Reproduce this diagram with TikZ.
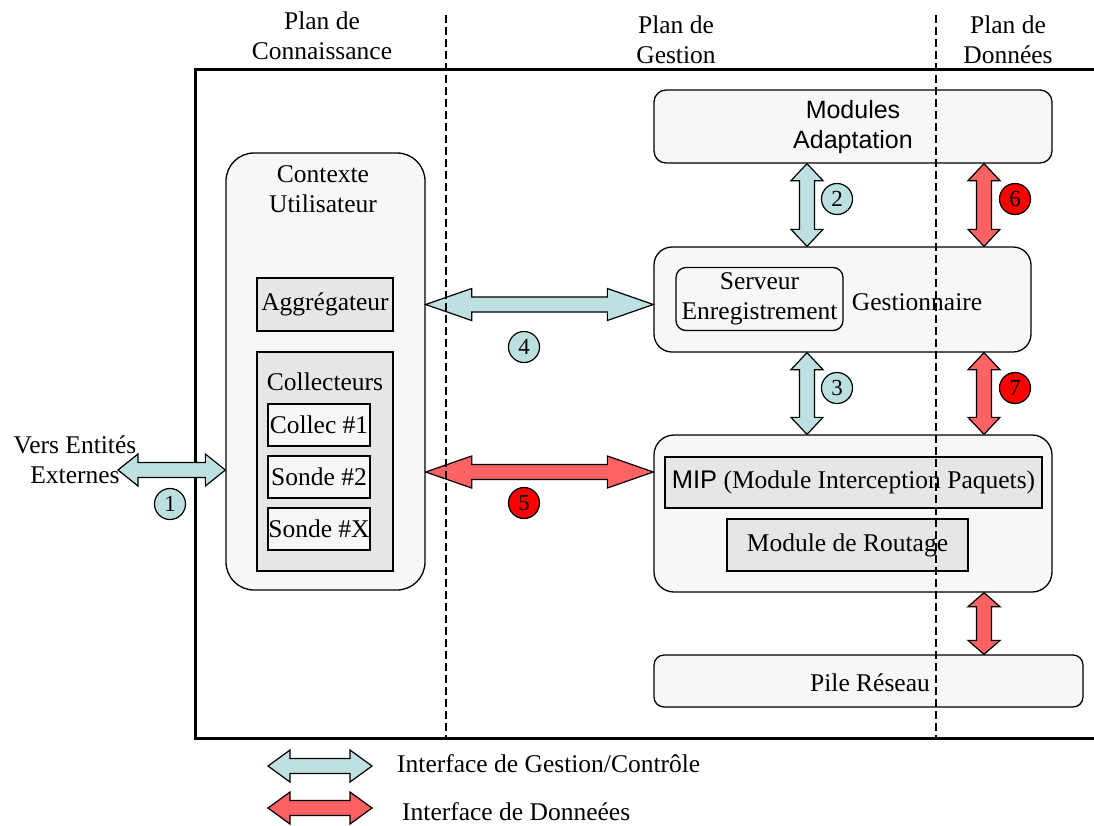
\documentclass[tikz,border=0pt]{standalone}
\usepackage{fontspec}
\setmainfont{Liberation Serif}
\newfontfamily\arialfont{Liberation Sans}
\usetikzlibrary{calc}
\definecolor{boxfill}{HTML}{F7F7F7}
\definecolor{innerfill}{HTML}{E6E6E6}
\definecolor{probefill}{HTML}{F6F6F6}
\definecolor{ctrlfill}{HTML}{BFE0E2}
\definecolor{datafill}{HTML}{FF6262}
\definecolor{ctrlcirc}{HTML}{BCDFDF}
\definecolor{datacirc}{HTML}{FF0000}
% horizontal double block arrow: style, left point, right point, head length
\newcommand\hdblarrow[4]{%
  \path[#1] let \p1=(#2), \p2=(#3) in
    (\x1,\y1) -- (\x1+#4,\y1+16) -- (\x1+#4,\y1+7.5) -- (\x2-#4,\y1+7.5) -- (\x2-#4,\y1+16)
    -- (\x2,\y1) -- (\x2-#4,\y1-16) -- (\x2-#4,\y1-7.5) -- (\x1+#4,\y1-7.5) -- (\x1+#4,\y1-16) -- cycle;}
% vertical double block arrow: style, top point, bottom point, head length
\newcommand\vdblarrow[4]{%
  \path[#1] let \p1=(#2), \p2=(#3) in
    (\x1,\y1) -- (\x1+16,\y1-#4) -- (\x1+7.5,\y1-#4) -- (\x1+7.5,\y2+#4) -- (\x1+16,\y2+#4)
    -- (\x1,\y2) -- (\x1-16,\y2+#4) -- (\x1-7.5,\y2+#4) -- (\x1-7.5,\y1-#4) -- (\x1-16,\y1-#4) -- cycle;}
\begin{document}
\begin{tikzpicture}[x=1pt,y=-1pt,
  every node/.style={font=\fontsize{25.5}{30}\selectfont, inner sep=0pt},
  rbox/.style={draw, line width=1.3pt, fill=boxfill},
  ibox/.style={draw, line width=1.3pt, fill=innerfill},
  pbox/.style={draw, line width=1.3pt, fill=probefill},
  ctrl/.style={draw, line width=1.2pt, fill=ctrlfill, line join=miter},
  data/.style={draw, line width=1.2pt, fill=datafill, line join=miter},
  numc/.style={circle, draw, line width=1.2pt, minimum size=31pt, font=\fontsize{23}{23}\selectfont},
  ctrlc/.style={numc, fill=ctrlcirc},
  datac/.style={numc, fill=datacirc},
  header/.style={align=center},
  divider/.style={line width=2.5pt, dash pattern=on 8pt off 4pt}
]
\useasboundingbox (0,0) rectangle (1094,825);

% headers
\node[header] (h1) at (322,36) {Plan de\\Connaissance};
\node[header] (h2) at (676,40) {Plan de\\Gestion};
\node[header] (h3) at (1008,40) {Plan de\\Données};

% main frame
\draw[line width=3pt] (1094,69) -- (195,69) -- (195,738) -- (1094,738);

% right column boxes
\node[rbox, rounded corners=12pt, minimum width=398pt, minimum height=73pt] (mod) at (853,126.5) {};
\node[align=center, font=\arialfont\fontsize{25}{30}\selectfont] (modt) at (853,127.5) {Modules\\Adaptation};

\node[rbox, rounded corners=18pt, minimum width=377pt, minimum height=105pt] (gest) at (842.5,299.5) {};
\node[rbox, rounded corners=10pt, minimum width=167pt, minimum height=63pt, align=center] (srv) at (759.5,299) {Serveur\\Enregistrement};
\node (gestt) at (917,302) {Gestionnaire};

\node[rbox, rounded corners=20pt, minimum width=398pt, minimum height=157pt] (mipbox) at (853,513.5) {};
\node[ibox, minimum width=377pt, minimum height=51pt] (mip) at (853.5,482.5) {{\arialfont MIP} (Module Interception Paquets)};
\node[ibox, minimum width=241pt, minimum height=52pt] (rout) at (847.5,545) {Module de Routage};

\node[rbox, rounded corners=10pt, minimum width=429pt, minimum height=52pt] (pile) at (868.5,681) {};
\node (pilet) at (870,683) {Pile Réseau};

% left column
\node[rbox, rounded corners=28pt, minimum width=199pt, minimum height=437pt] (ctx) at (325.5,371.5) {};
\node[align=center] (ctxt) at (323,189) {Contexte\\Utilisateur};
\node[ibox, minimum width=136pt, minimum height=53pt] (agg) at (325,304.5) {Aggrégateur};
\node[ibox, minimum width=136pt, minimum height=219pt] (coll) at (325,461.5) {};
\node (collt) at (325,382) {Collecteurs};
\node[pbox, minimum width=102pt, minimum height=42pt] (c1) at (319,425) {Collec \#1};
\node[pbox, minimum width=102pt, minimum height=42pt] (c2) at (319,477) {Sonde \#2};
\node[pbox, minimum width=102pt, minimum height=42pt] (c3) at (319,529) {Sonde \#X};

\node[align=center] (ext) at (75,460) {Vers Entités\\Externes};

% helper coordinates
\coordinate (extend) at (118,470);
\coordinate (a5) at (0,472);
\coordinate (colA) at (807,0);
\coordinate (colB) at (984,0);

% arrows
\hdblarrow{ctrl}{extend}{ctx.west |- extend}{20}
\hdblarrow{ctrl}{ctx.east |- agg}{gest.west |- agg}{46}
\hdblarrow{data}{ctx.east |- a5}{mipbox.west |- a5}{46}
\vdblarrow{ctrl}{mod.south -| colA}{gest.north -| colA}{17}
\vdblarrow{data}{mod.south -| colB}{gest.north -| colB}{17}
\vdblarrow{ctrl}{gest.south -| colA}{mipbox.north -| colA}{17}
\vdblarrow{data}{gest.south -| colB}{mipbox.north -| colB}{17}
\vdblarrow{data}{mipbox.south -| colB}{pile.north -| colB}{14}

% numbers
\node[ctrlc] (n1) at (170,504) {1};
\node[ctrlc] (n2) at (837,199) {2};
\node[ctrlc] (n3) at (837,388) {3};
\node[ctrlc] (n4) at (524,347) {4};
\node[datac] (n5) at (524,503) {5};
\node[datac] (n6) at (1015,199) {6};
\node[datac] (n7) at (1015,388) {7};

% dividers
\draw[divider] (446,15) -- (446,738);
\draw[divider] (936,15) -- (936,738);

% legend
\coordinate (lg1a) at (268,766);
\coordinate (lg1b) at (372,766);
\coordinate (lg2a) at (268,808);
\coordinate (lg2b) at (372,808);
\hdblarrow{ctrl}{lg1a}{lg1b}{22}
\hdblarrow{data}{lg2a}{lg2b}{22}
\node[anchor=west] (lg1t) at (397,764) {Interface de Gestion/Contrôle};
\node[anchor=west] (lg2t) at (402,812) {Interface de Donneées};
\end{tikzpicture}
\end{document}
